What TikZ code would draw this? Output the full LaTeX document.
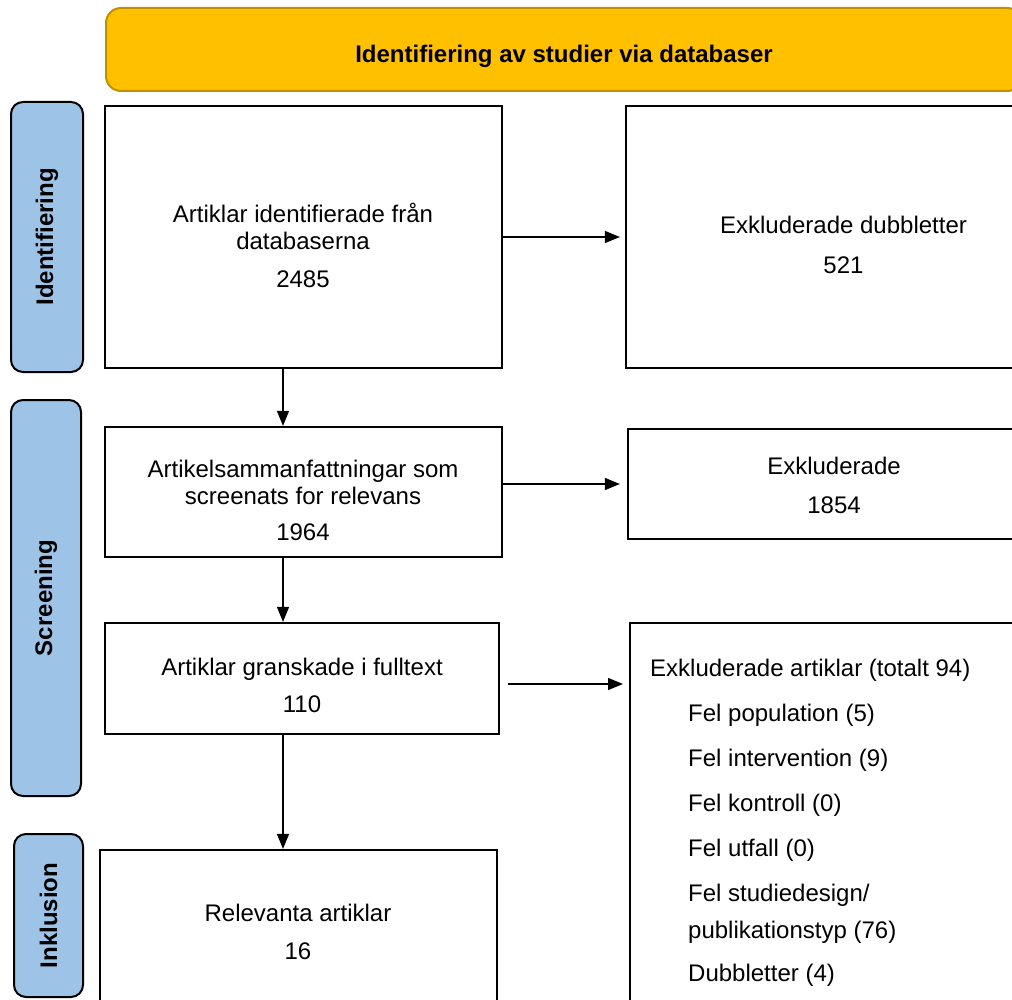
\documentclass[tikz,border=0pt]{standalone}
\usepackage{fontspec}
\setmainfont{Liberation Sans}
\usetikzlibrary{arrows.meta,calc}
\definecolor{gold}{HTML}{FFC000}
\definecolor{golddark}{HTML}{BF9000}
\definecolor{labblue}{HTML}{9DC3E6}
\tikzset{
  box/.style={draw=black, line width=2.2pt, fill=white, inner sep=0pt},
  txt/.style={align=center, font=\fontsize{24}{27}\selectfont, inner sep=0pt},
  ltxt/.style={font=\fontsize{24}{27}\selectfont, anchor=base west, inner sep=0pt},
  lab/.style={draw=black, line width=2pt, fill=labblue, rounded corners=12pt,
    font=\bfseries\fontsize{24}{27}\selectfont, inner sep=0pt, rotate=90},
  banner/.style={draw=golddark, line width=2pt, fill=gold, rounded corners=15pt,
    font=\bfseries\fontsize{24}{27}\selectfont, inner sep=0pt},
  arr/.style={line width=1.3pt, -{Triangle[length=15pt,width=12pt]}}
}
\begin{document}
\begin{tikzpicture}[x=1pt,y=-1pt]
\useasboundingbox (0,0) rectangle (1012,1000);
\clip (0,0) rectangle (1012,1000);
% banner
\node[banner, minimum width=916, minimum height=83] (ban) at (564,49.5) {};
\node[txt, font=\bfseries\fontsize{24}{27}\selectfont] (bant) at (564,56) {Identifiering av studier via databaser};
% side labels
\node[lab, minimum width=270, minimum height=72] (l1) at (47,237) {Identifiering};
\node[lab, minimum width=396, minimum height=70] (l2) at (46,598) {Screening};
\node[lab, minimum width=163, minimum height=69] (l3) at (48.5,915.5) {Inklusion};
% boxes
\node[box, minimum width=397, minimum height=262] (a) at (303.5,237) {};
\node[txt] (at) at (303,245.5) {Artiklar identifierade från\\databaserna\\[11pt]2485};
\node[box, minimum width=435, minimum height=262] (b) at (843.5,237) {};
\node[txt] (bt) at (843.5,245) {Exkluderade dubbletter\\[13pt]521};
\node[box, minimum width=397, minimum height=130] (b2) at (303.5,492) {};
\node[txt] (b2t) at (303,500.5) {Artikelsammanfattningar som\\screenats for relevans\\[9pt]1964};
\node[box, minimum width=412, minimum height=110] (b2r) at (834,484) {};
\node[txt] (b2rt) at (834,485.5) {Exkluderade\\[12pt]1854};
\node[box, minimum width=394, minimum height=111] (c) at (302,678.5) {};
\node[txt] (ct) at (302,685.5) {Artiklar granskade i fulltext\\[10pt]110};
\node[box, minimum width=397, minimum height=162] (d) at (298.5,931) {};
\node[txt] (dt) at (298,932) {Relevanta artiklar\\[11pt]16};
\node[box, anchor=north west, minimum width=500, minimum height=500] (e) at (629,622) {};
\node[ltxt] (e0) at (650,676) {Exkluderade artiklar (totalt 94)};
\node[ltxt] (e1) at (688,721) {Fel population (5)};
\node[ltxt] (e2) at (688,766) {Fel intervention (9)};
\node[ltxt] (e3) at (688,811) {Fel kontroll (0)};
\node[ltxt] (e4) at (688,856) {Fel utfall (0)};
\node[ltxt] (e5) at (688,901) {Fel studiedesign/};
\node[ltxt] (e6) at (688,938) {publikationstyp (76)};
\node[ltxt] (e7) at (688,981) {Dubbletter (4)};
% arrows
\coordinate (vx) at (283,0);
\coordinate (ey) at (0,684);
\draw[arr, shorten >=5pt] (a.east) -- (b.west);
\draw[arr, shorten >=7pt] (b2.east |- b2r.west) -- (b2r.west);
\draw[arr, shorten <=8pt, shorten >=6pt] (c.east |- ey) -- (e.west |- ey);
\draw[arr] (a.south -| vx) -- (b2.north -| vx);
\draw[arr] (b2.south -| vx) -- (c.north -| vx);
\draw[arr] (c.south -| vx) -- (d.north -| vx);
\end{tikzpicture}
\end{document}
